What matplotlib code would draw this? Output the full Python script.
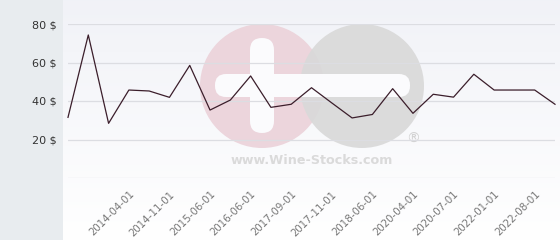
import numpy as np
import matplotlib
matplotlib.use("Agg")
import matplotlib.pyplot as plt
from matplotlib.patches import Circle, Rectangle, FancyBboxPatch

# monthly average price, one point per listing date
prices = [31.5, 74.3, 28.4, 45.7, 45.2, 41.9, 58.5, 35.3, 40.5, 53.0,
          36.7, 38.3, 46.9, 39.0, 31.2, 33.0, 46.4, 33.6, 43.5, 42.0,
          53.9, 45.7, 45.7, 45.7, 38.3]
tick_labels = ["2014-04-01", "2014-11-01", "2015-06-01", "2016-06-01",
               "2017-09-01", "2017-11-01", "2018-06-01", "2020-04-01",
               "2020-07-01", "2022-01-01", "2022-08-01"]
y_ticks = [20, 40, 60, 80]

W, H = 560, 240
fig = plt.figure(figsize=(W / 100, H / 100), dpi=100)

# background layer in pixel coordinates
bg = fig.add_axes([0, 0, 1, 1])
bg.set_xlim(0, W)
bg.set_ylim(H, 0)
bg.axis("off")
bg.add_patch(Rectangle((0, 0), 63, H, color="#e8ecef", lw=0))
grad = np.linspace(0, 1, 256).reshape(-1, 1)
top = np.array([0.945, 0.95, 0.97])
bottom = np.array([1.0, 1.0, 1.0])
img = top + (bottom - top) * grad[:, :, None]
bg.imshow(img, extent=(63, W, H, 0), aspect="auto", zorder=0)

# watermark
bg.add_patch(Circle((262, 86), 62, color="#ecd5dc", lw=0, zorder=1))
bg.add_patch(Circle((362, 86), 62, color="#d9d9d9", alpha=0.92, lw=0, zorder=2))
bg.add_patch(FancyBboxPatch((250, 38), 24, 95, boxstyle="round,pad=0,rounding_size=12",
                            color="#fbfbfd", lw=0, zorder=3))
bg.add_patch(FancyBboxPatch((215, 74), 195, 23, boxstyle="round,pad=0,rounding_size=11",
                            color="#fbfbfd", lw=0, zorder=3))
bg.text(312, 161, "www.Wine-Stocks.com", fontsize=9.2, fontweight="bold",
        color="#dadada", ha="center", va="center", zorder=3)
bg.text(413, 139, "®", fontsize=10, color="#d2d2d2", ha="center", va="center", zorder=3)

# main chart
ax = fig.add_axes([68 / W, 1 - 178 / H, (555 - 68) / W, (178 - 24) / H])
ax.patch.set_alpha(0)
x = np.arange(len(prices))
ax.plot(x, prices, color="#3b1e2b", lw=0.9, clip_on=False, zorder=5)
ax.set_xlim(0, len(prices) - 1)
ax.set_ylim(0, 80)
ax.set_yticks([0] + y_ticks)
ax.set_yticklabels([""] + [f"{v} $" for v in y_ticks], fontsize=8, color="#333333")
ax.grid(axis="y", color="#dcdde2", lw=0.9)
ax.set_axisbelow(True)
ax.set_xticks(x[3::2])
ax.set_xticklabels(tick_labels, rotation=45, ha="right", rotation_mode="anchor",
                   fontsize=7.4, color="#777777")
ax.tick_params(axis="y", length=0, pad=8)
ax.tick_params(axis="x", length=0, pad=8)
for s in ax.spines.values():
    s.set_visible(False)

fig.savefig("out.png", dpi=100)
